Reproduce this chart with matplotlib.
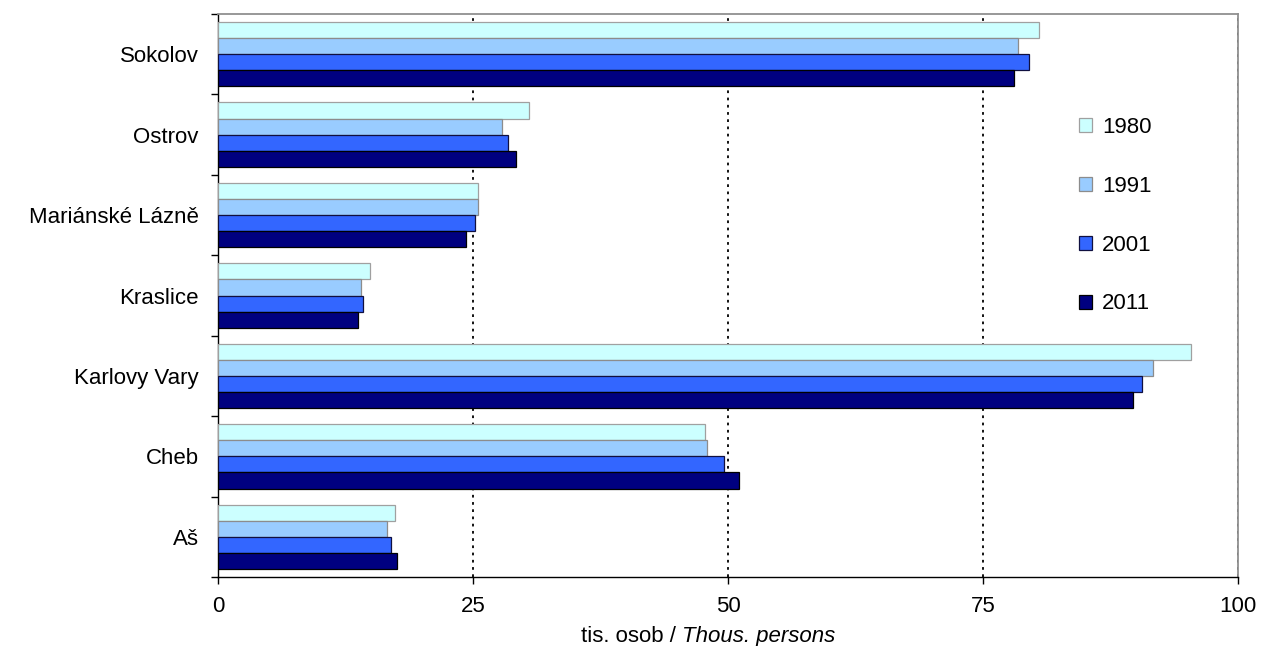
"""Population of towns in Karlovy Vary region, 1980-2011."""

import matplotlib
matplotlib.use("Agg")
import matplotlib.pyplot as plt
import numpy as np
from matplotlib.offsetbox import AnchoredOffsetbox, HPacker, TextArea

plt.rcParams.update({
    "font.family": ["Liberation Sans", "DejaVu Sans"],
    "font.size": 16,
})

towns = ["Aš", "Cheb", "Karlovy Vary", "Kraslice", "Mariánské Lázně", "Ostrov", "Sokolov"]
years = ["1980", "1991", "2001", "2011"]
pop_1980 = [17.4, 47.7, 95.4, 14.9, 25.5, 30.5, 80.5]
pop_1991 = [16.6, 47.9, 91.7, 14.0, 25.5, 27.8, 78.4]
pop_2001 = [17.0, 49.6, 90.6, 14.2, 25.2, 28.4, 79.5]
pop_2011 = [17.5, 51.1, 89.7, 13.7, 24.3, 29.2, 78.0]
x_ticks = [0, 25, 50, 75, 100]

series = [pop_1980, pop_1991, pop_2001, pop_2011]
faces = ["#CCFFFF", "#99CCFF", "#3366FF", "#000080"]
edges = ["#A0A0A0", "#8C8C8C", "#101040", "#000000"]
offsets = [0.3, 0.1, -0.1, -0.3]

fig = plt.figure(figsize=(12.62, 6.46), dpi=100)
ax = fig.add_axes([218 / 1262, 69 / 646, 1020 / 1262, 563 / 646])

y = np.arange(len(towns))
handles = []
for vals, fc, ec, off, lab in zip(series, faces, edges, offsets, years):
    b = ax.barh(y + off, vals, height=0.2, color=fc, edgecolor=ec,
                linewidth=0.9, label=lab, zorder=3)
    handles.append(b)

ax.set_xlim(0, 100)
ax.set_ylim(-0.5, len(towns) - 0.5)
ax.set_xticks(x_ticks)
ax.set_xticklabels([str(t) for t in x_ticks])
ax.set_yticks(y)
ax.set_yticklabels(towns)
ax.set_yticks(np.arange(-0.5, len(towns), 1.0), minor=True)
ax.tick_params(axis="y", which="major", length=0, pad=14)
ax.tick_params(axis="y", which="minor", length=5, width=1, direction="out")
ax.tick_params(axis="x", length=5, width=1, direction="out", pad=9)

for v in x_ticks[1:]:
    ax.axvline(v, color="black", linestyle=(0, (1.5, 2.5)), linewidth=1.3, zorder=1)

for s in ["left", "bottom"]:
    ax.spines[s].set_color("black")
    ax.spines[s].set_linewidth(1.0)
for s in ["top", "right"]:
    ax.spines[s].set_color("#909090")
    ax.spines[s].set_linewidth(1.3)

# x-axis title: regular Czech part + italic English part
label = HPacker(children=[
    TextArea("tis. osob / ", textprops=dict(fontsize=16)),
    TextArea("Thous. persons", textprops=dict(fontsize=16, style="italic")),
], pad=0, sep=0)
title_box = AnchoredOffsetbox(loc="center", child=label, pad=0, borderpad=0,
                              frameon=False, bbox_to_anchor=(0.481, -0.105),
                              bbox_transform=ax.transAxes)
ax.add_artist(title_box)

fig.legend(handles=handles, labels=years, loc="upper left",
           bbox_to_anchor=(1068 / 1262, (646 - 106) / 646),
           frameon=False, borderpad=0, handlelength=0.58, handleheight=0.58,
           handletextpad=0.45, labelspacing=1.7, fontsize=16)

fig.savefig("out.png", dpi=100)
